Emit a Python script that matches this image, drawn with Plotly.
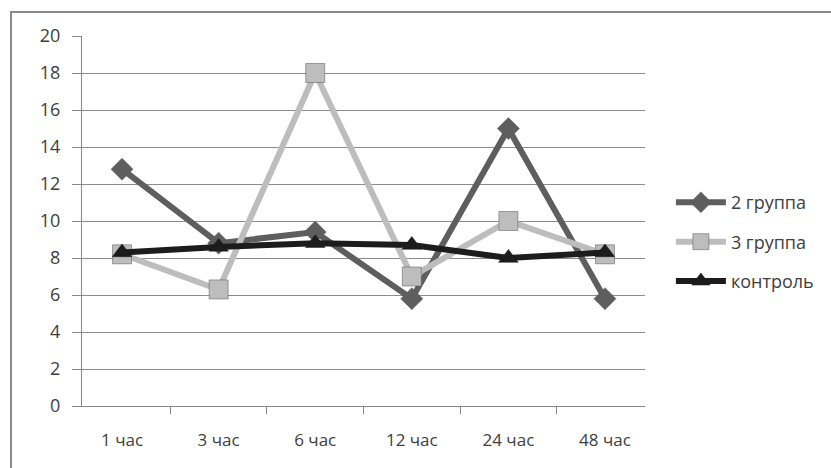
import plotly.graph_objects as go

categories = ["1 час", "3 час", "6 час", "12 час", "24 час", "48 час"]
group2 = [12.8, 8.8, 9.4, 5.8, 15.0, 5.8]
group3 = [8.2, 6.3, 18.0, 7.0, 10.0, 8.2]
control = [8.3, 8.6, 8.8, 8.7, 8.0, 8.3]
y_ticks = [0, 2, 4, 6, 8, 10, 12, 14, 16, 18, 20]

series = [
    ("2 группа", group2, "#5e5e5e", "diamond", 17),
    ("3 группа", group3, "#bdbdbd", "square", 19),
    ("контроль", control, "#1c1c1c", "triangle-up", 17),
]

fig = go.Figure()
for i, (name, vals, color, sym, size) in enumerate(series):
    fig.add_trace(go.Scatter(
        x=categories, y=vals, name=name, mode="lines+markers",
        line=dict(color=color, width=6),
        marker=dict(symbol=sym, size=size, color=color,
                    line=dict(color="#555555" if i == 1 else color, width=0.5)),
        legendgroup=f"g{i}",
    ))

fig.update_layout(
    width=831, height=468,
    margin=dict(l=82, r=186, t=36, b=62),
    paper_bgcolor="white", plot_bgcolor="white",
    font=dict(family="Open Sans, Lato, sans-serif", size=16, color="#404040"),
    showlegend=True,
    legend=dict(x=1.046, y=0.443, xanchor="left", yanchor="middle",
                traceorder="grouped", tracegroupgap=13,
                font=dict(size=18, color="#404040"), itemwidth=50,
                bgcolor="rgba(0,0,0,0)"),
    xaxis=dict(type="category", showgrid=False, showline=True,
               linecolor="#888888", linewidth=1, ticks="outside",
               tickson="boundaries", ticklen=7, tickcolor="#888888",
               tickfont=dict(size=17), ticklabelstandoff=19, zeroline=False),
    yaxis=dict(range=[0, 20], tickvals=y_ticks, showgrid=True,
               gridcolor="#8c8c8c", gridwidth=1, showline=True,
               linecolor="#888888", linewidth=1, ticks="outside",
               ticklen=9, tickcolor="#888888", zeroline=False,
               tickfont=dict(size=18), ticklabelstandoff=8),
    shapes=[dict(type="rect", xref="paper", yref="paper",
                 x0=(11 - 82) / 563, x1=1.5, y0=-0.5, y1=(406 - 12) / 370,
                 line=dict(color="#8a8a8a", width=2), layer="below")],
)

fig.write_html("out.html")
